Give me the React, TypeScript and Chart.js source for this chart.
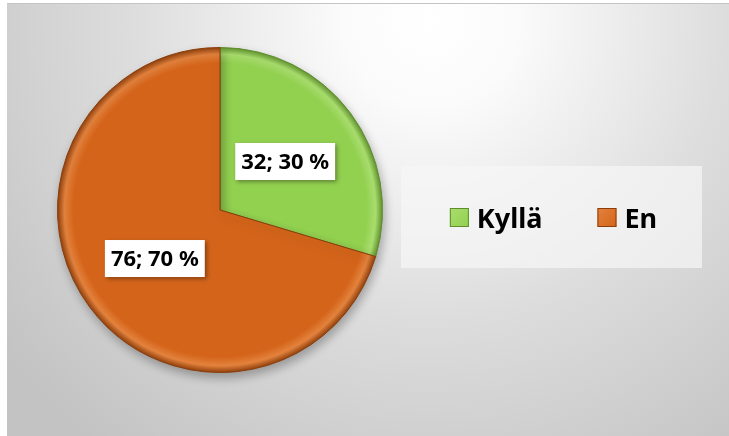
import React, { useEffect, useRef } from "react";
import { Chart, registerables } from "chart.js";

Chart.register(...registerables);

const categories = ["Kyllä", "En"];
const values = [32, 76];
const colors = ["#92d050", "#d4641a"];
const lightColors = ["#a9de6e", "#e3823d"];
const darkColors = ["#5e8f2c", "#8c3d0b"];

const FONT = '"Noto Sans", "DejaVu Sans", sans-serif';

const backgroundPlugin = {
  id: "bgPlugin",
  beforeDraw(chart: any) {
    const { ctx, width, height } = chart;
    ctx.save();
    ctx.fillStyle = "#ffffff";
    ctx.fillRect(0, 0, width, height);
    const g = ctx.createRadialGradient(430, 20, 0, 430, 20, 540);
    g.addColorStop(0, "#ffffff");
    g.addColorStop(0.16, "#fbfbfb");
    g.addColorStop(0.55, "#dddddd");
    g.addColorStop(1, "#c3c3c3");
    ctx.fillStyle = g;
    ctx.fillRect(7, 3, width - 7, height - 3);
    ctx.strokeStyle = "#c4c4c4";
    ctx.lineWidth = 1;
    ctx.beginPath();
    ctx.moveTo(7, 3.5);
    ctx.lineTo(width, 3.5);
    ctx.stroke();
    ctx.restore();
  },
  beforeDatasetsDraw(chart: any) {
    const ctx = chart.ctx;
    ctx.save();
    ctx.shadowColor = "rgba(0,0,0,0.28)";
    ctx.shadowBlur = 10;
    ctx.shadowOffsetX = 2;
    ctx.shadowOffsetY = 5;
  },
  afterDatasetsDraw(chart: any) {
    const ctx = chart.ctx;
    ctx.restore();
    // data labels
    const meta = chart.getDatasetMeta(0);
    const data = chart.data.datasets[0].data as number[];
    const total = data.reduce((a: number, b: number) => a + b, 0);
    ctx.save();
    ctx.font = `bold 22px ${FONT}`;
    ctx.textAlign = "center";
    ctx.textBaseline = "middle";
    meta.data.forEach((arc: any, i: number) => {
      const p = arc.getProps(["x", "y", "startAngle", "endAngle", "outerRadius"], true);
      const mid = (p.startAngle + p.endAngle) / 2;
      const r = p.outerRadius * 0.5;
      const cx = p.x + Math.cos(mid) * r;
      const cy = p.y + Math.sin(mid) * r;
      const label = `${data[i]}; ${Math.round((data[i] / total) * 100)} %`;
      const tw = ctx.measureText(label).width;
      const bw = tw + 12;
      const bh = 37;
      ctx.save();
      ctx.shadowColor = "rgba(0,0,0,0.35)";
      ctx.shadowBlur = 4;
      ctx.shadowOffsetX = 2;
      ctx.shadowOffsetY = 2;
      ctx.fillStyle = "#ffffff";
      ctx.fillRect(cx - bw / 2, cy - bh / 2, bw, bh);
      ctx.restore();
      ctx.fillStyle = "#000000";
      ctx.fillText(label, cx, cy + 1);
    });
    ctx.restore();

    // legend
    const box = { x: 401, y: 166, w: 301, h: 102 };
    ctx.save();
    ctx.fillStyle = "rgba(246,246,246,0.7)";
    ctx.fillRect(box.x, box.y, box.w, box.h);
    ctx.font = `bold 27px ${FONT}`;
    ctx.textBaseline = "alphabetic";
    ctx.textAlign = "left";
    const sq = 19;
    const gapSq = 8;
    const gapItem = 55;
    const labels = chart.data.labels as string[];
    const widths = labels.map((l) => ctx.measureText(l).width);
    const totalW = widths.reduce((a, w) => a + sq + gapSq + w, 0) + gapItem * (labels.length - 1);
    let x = box.x + box.w / 2 - totalW / 2 + 2;
    const cyL = box.y + box.h / 2 + 0.5;
    labels.forEach((l, i) => {
      const g = ctx.createLinearGradient(x, cyL - sq / 2, x + sq, cyL + sq / 2);
      g.addColorStop(0, lightColors[i]);
      g.addColorStop(1, colors[i]);
      ctx.fillStyle = g;
      ctx.fillRect(x, cyL - sq / 2, sq, sq);
      ctx.strokeStyle = darkColors[i];
      ctx.lineWidth = 1;
      ctx.strokeRect(x + 0.5, cyL - sq / 2 + 0.5, sq - 1, sq - 1);
      ctx.fillStyle = "#000000";
      ctx.fillText(l, x + sq + gapSq, cyL + 10);
      x += sq + gapSq + widths[i] + gapItem;
    });
    ctx.restore();
  },
};

export default function App() {
  const canvasRef = useRef<HTMLCanvasElement | null>(null);

  useEffect(() => {
    if (!canvasRef.current) return;
    const makeFill = (i: number) => (c: any) => {
      const chart = c.chart;
      const ca = chart.chartArea;
      if (!ca) return colors[i];
      const cx = (ca.left + ca.right) / 2;
      const cy = (ca.top + ca.bottom) / 2;
      const r = Math.min(ca.width, ca.height) / 2;
      const g = chart.ctx.createRadialGradient(cx, cy, 0, cx, cy, r);
      g.addColorStop(0, colors[i]);
      g.addColorStop(0.9, colors[i]);
      g.addColorStop(0.955, lightColors[i]);
      g.addColorStop(1, darkColors[i]);
      return g;
    };
    const chart = new Chart(canvasRef.current, {
      type: "pie",
      data: {
        labels: categories,
        datasets: [
          {
            data: values,
            backgroundColor: (c: any) => makeFill(c.dataIndex)(c),
            borderColor: darkColors,
            borderWidth: 1,
          },
        ],
      },
      options: {
        animation: false,
        responsive: false,
        maintainAspectRatio: false,
        layout: { padding: { left: 57, right: 346, top: 47, bottom: 63 } },
        plugins: {
          legend: { display: false },
          tooltip: { enabled: false },
        },
        events: [],
      },
      plugins: [backgroundPlugin],
    });
    return () => chart.destroy();
  }, []);

  return (
    <div style={{ position: "fixed", left: 0, top: 0, width: 729, height: 436 }}>
      <canvas ref={canvasRef} width={729} height={436} style={{ display: "block" }} />
    </div>
  );
}
